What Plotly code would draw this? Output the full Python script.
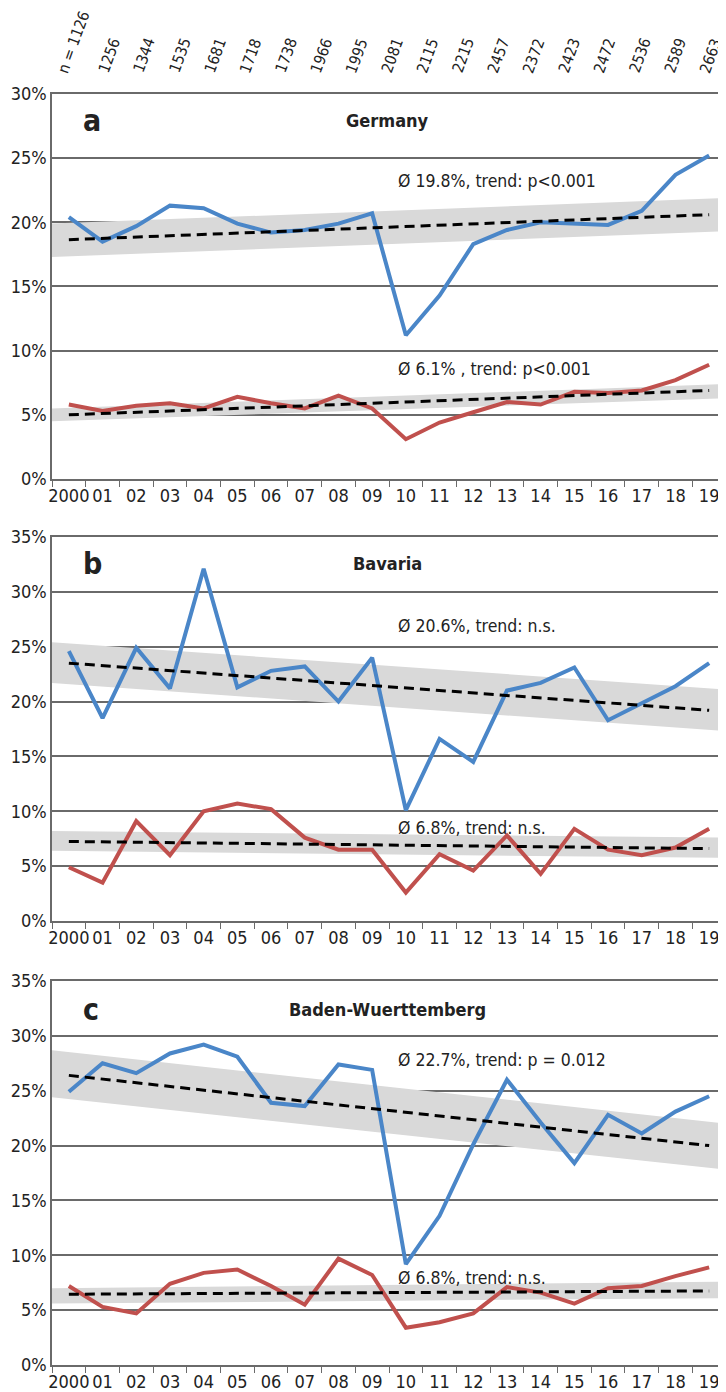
import plotly.graph_objects as go
from plotly.subplots import make_subplots

years = ["2000", "01", "02", "03", "04", "05", "06", "07", "08", "09",
         "10", "11", "12", "13", "14", "15", "16", "17", "18", "19"]
n_labels = ["n = 1126", "1256", "1344", "1535", "1681", "1718", "1738", "1966", "1995",
            "2081", "2115", "2215", "2457", "2372", "2423", "2472", "2536", "2589", "2663"]

# Germany
de_blue = [20.4, 18.5, 19.7, 21.3, 21.1, 19.9, 19.2, 19.4, 19.9, 20.7,
           11.2, 14.3, 18.3, 19.4, 20.0, 19.9, 19.8, 20.9, 23.7, 25.2]
de_red = [5.8, 5.3, 5.7, 5.9, 5.5, 6.4, 5.9, 5.5, 6.5, 5.5,
          3.1, 4.4, 5.2, 6.0, 5.8, 6.8, 6.7, 6.9, 7.7, 8.9]
de_blue_trend = [18.65, 20.6]
de_blue_band_lo = [17.3, 19.3]
de_blue_band_hi = [19.9, 21.9]
de_red_trend = [5.0, 6.9]
de_red_band_lo = [4.5, 6.3]
de_red_band_hi = [5.5, 7.4]

# Bavaria
by_blue = [24.6, 18.5, 24.9, 21.2, 32.1, 21.3, 22.8, 23.2, 20.0, 24.0,
           10.1, 16.6, 14.5, 21.0, 21.7, 23.1, 18.3, 19.8, 21.4, 23.5]
by_red = [4.9, 3.5, 9.1, 6.0, 10.0, 10.7, 10.2, 7.6, 6.5, 6.5,
          2.6, 6.1, 4.6, 7.8, 4.3, 8.4, 6.5, 6.0, 6.7, 8.4]
by_blue_trend = [23.5, 19.2]
by_blue_band_lo = [21.7, 17.3]
by_blue_band_hi = [25.4, 21.1]
by_red_trend = [7.25, 6.6]
by_red_band_lo = [6.4, 5.75]
by_red_band_hi = [8.2, 7.6]

# Baden-Wuerttemberg
bw_blue = [24.9, 27.5, 26.6, 28.4, 29.2, 28.1, 23.9, 23.6, 27.4, 26.9,
           9.2, 13.6, 20.1, 26.0, 22.1, 18.4, 22.8, 21.1, 23.1, 24.5]
bw_red = [7.2, 5.3, 4.7, 7.4, 8.4, 8.7, 7.2, 5.5, 9.7, 8.2,
          3.4, 3.9, 4.7, 7.1, 6.6, 5.6, 7.0, 7.2, 8.1, 8.9]
bw_blue_trend = [26.4, 20.0]
bw_blue_band_lo = [24.4, 17.8]
bw_blue_band_hi = [28.7, 22.0]
bw_red_trend = [6.45, 6.75]
bw_red_band_lo = [5.6, 6.1]
bw_red_band_hi = [7.0, 7.6]

panels = [
    dict(letter="a", title="Germany", ymax=30,
         blue=de_blue, red=de_red,
         bt=de_blue_trend, bl=de_blue_band_lo, bh=de_blue_band_hi,
         rt=de_red_trend, rl=de_red_band_lo, rh=de_red_band_hi,
         btxt="Ø 19.8%, trend: p<0.001", bty=23.2,
         rtxt="Ø 6.1% , trend: p<0.001", rty=8.6, ly=27.9),
    dict(letter="b", title="Bavaria", ymax=35,
         blue=by_blue, red=by_red,
         bt=by_blue_trend, bl=by_blue_band_lo, bh=by_blue_band_hi,
         rt=by_red_trend, rl=by_red_band_lo, rh=by_red_band_hi,
         btxt="Ø 20.6%, trend: n.s.", bty=26.9,
         rtxt="Ø 6.8%, trend: n.s.", rty=8.5, ly=32.6),
    dict(letter="c", title="Baden-Wuerttemberg", ymax=35,
         blue=bw_blue, red=bw_red,
         bt=bw_blue_trend, bl=bw_blue_band_lo, bh=bw_blue_band_hi,
         rt=bw_red_trend, rl=bw_red_band_lo, rh=bw_red_band_hi,
         btxt="Ø 22.7%, trend: p = 0.012", bty=27.8,
         rtxt="Ø 6.8%, trend: n.s.", rty=7.9, ly=32.4),
]

BLUE = "#4a86c8"
RED = "#c0504d"
BAND = "#d9d9d9"
GRID = "#6a6a6a"
FONT = "DejaVu Sans Condensed, Liberation Sans Narrow, sans-serif"

xs = list(range(len(years)))
x0, x1 = -0.5, len(years) - 0.5

fig = make_subplots(rows=3, cols=1)
domains = [[0.6971, 1.0], [0.3493, 0.6515], [0.0, 0.3021]]

for i, p in enumerate(panels):
    r = i + 1
    for lo, hi in ((p["bl"], p["bh"]), (p["rl"], p["rh"])):
        fig.add_trace(go.Scatter(x=[x0, x1, x1, x0], y=[lo[0], lo[1], hi[1], hi[0]],
                                 fill="toself", fillcolor=BAND, mode="none",
                                 hoverinfo="skip", showlegend=False), row=r, col=1)
    fig.add_trace(go.Scatter(x=xs, y=p["blue"], mode="lines",
                             line=dict(color=BLUE, width=4), showlegend=False), row=r, col=1)
    fig.add_trace(go.Scatter(x=xs, y=p["red"], mode="lines",
                             line=dict(color=RED, width=4), showlegend=False), row=r, col=1)
    for t in (p["bt"], p["rt"]):
        fig.add_trace(go.Scatter(x=[xs[0], xs[-1]], y=t, mode="lines",
                                 line=dict(color="black", width=3, dash="10px,6px"),
                                 showlegend=False), row=r, col=1)

    xa = "xaxis" if r == 1 else f"xaxis{r}"
    ya = "yaxis" if r == 1 else f"yaxis{r}"
    fig.layout[xa].update(
        domain=[0, 1], range=[x0, x1], tickvals=xs, ticktext=years, ticks="",
        tickangle=0, automargin=False,
        showgrid=False, zeroline=False, showline=True, linecolor=GRID, linewidth=1.5,
        mirror=True, tickfont=dict(family=FONT, size=18, color="#222"),
        minor=dict(tickmode="linear", tick0=-0.5, dtick=1, ticks="outside",
                   ticklen=6, tickcolor=GRID, tickwidth=1.3, showgrid=False),
    )
    fig.layout[ya].update(
        domain=domains[i], range=[0, p["ymax"]], dtick=5, ticksuffix="%",
        showgrid=True, gridcolor=GRID, gridwidth=1.5, zeroline=False,
        showline=True, linecolor=GRID, linewidth=1.5, mirror=True, automargin=False,
        ticks="", tickfont=dict(family=FONT, size=18, color="#222"),
    )

    xr = "x" if r == 1 else f"x{r}"
    yr = "y" if r == 1 else f"y{r}"
    fig.add_annotation(x=0.35, y=p["ly"], xref=xr, yref=yr, text=f"<b>{p['letter']}</b>",
                       showarrow=False, xanchor="left",
                       font=dict(family=FONT, size=30, color="#222"))
    fig.add_annotation(x=9.45, y=p["ly"], xref=xr, yref=yr, text=f"<b>{p['title']}</b>",
                       showarrow=False, xanchor="center",
                       font=dict(family=FONT, size=18, color="#222"))
    fig.add_annotation(x=9.7, y=p["bty"], xref=xr, yref=yr, text=p["btxt"],
                       showarrow=False, xanchor="left",
                       font=dict(family=FONT, size=17.5, color="#222"))
    fig.add_annotation(x=9.7, y=p["rty"], xref=xr, yref=yr, text=p["rtxt"],
                       showarrow=False, xanchor="left",
                       font=dict(family=FONT, size=17.5, color="#222"))

# sample sizes above panel a (slightly wider spacing than the year categories)
for k, lab in enumerate(n_labels):
    fig.add_annotation(x=0.15 + k * 1.05, y=1, xref="x", yref="paper", text=lab,
                       showarrow=False, textangle=-70, xanchor="center", yanchor="bottom",
                       yshift=16, font=dict(family=FONT, size=15.5, color="#222"))

fig.update_layout(
    width=726, height=1392,
    margin=dict(l=44, r=8, t=86, b=35),
    plot_bgcolor="white", paper_bgcolor="white",
    showlegend=False,
)

fig.write_html("out.html")
